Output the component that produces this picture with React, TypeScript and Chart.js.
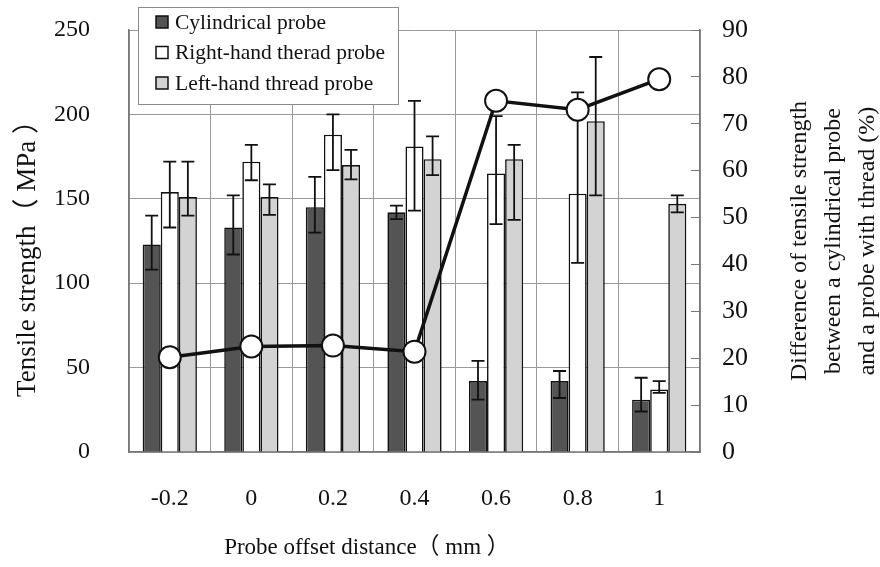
import React, { useEffect, useRef } from "react";
import { Chart, registerables } from "chart.js";

Chart.register(...registerables);

const categories = ["-0.2", "0", "0.2", "0.4", "0.6", "0.8", "1"];

const cylindrical = [123, 133, 145, 142, 42, 42, 31];
const cylErrPlus = [17, 19, 18, 4, 12, 6, 13];
const cylErrMinus = [15, 16, 15, 4, 11, 10, 7];

const rightHand = [154, 172, 188, 181, 165, 153, 37];
const rightErrPlus = [18, 10, 12, 27, 34, 60, 5];
const rightErrMinus = [21, 11, 21, 38, 30, 41, 2];

const leftHand = [151, 151, 170, 173.5, 173.5, 196, 147];
const leftErrPlus = [21, 7.5, 9, 13.5, 8.5, 38, 5];
const leftErrMinus = [11, 10.5, 8.5, 9.5, 36, 44, 5];

const difference = [20.2, 22.5, 22.7, 21.4, 74.9, 73, 79.5];

const legendLabels = ["Cylindrical probe", "Right-hand therad probe", "Left-hand thread probe"];
const leftTitle = "Tensile strength（ MPa ）";
const rightTitle = [
  "Difference of tensile strength",
  "between a cylindrical probe",
  "and a probe with thread (%)",
];
const xTitle = "Probe offset distance（ mm ）";

const FONT = "'Liberation Serif', 'Times New Roman', 'Noto Sans CJK SC', serif";
const DARK = "#545454";
const WHITE = "#ffffff";
const LIGHT = "#d3d3d3";

const errorBarPlugin = {
  id: "errorBars",
  afterDatasetDraw(chart: any, args: any) {
    const meta = args.meta;
    if (meta.type !== "bar") return;
    const ds: any = chart.data.datasets[args.index];
    const yScale = chart.scales[meta.yAxisID];
    const ctx = chart.ctx;
    ctx.save();
    ctx.strokeStyle = "#111";
    ctx.lineWidth = 1.8;
    meta.data.forEach((el: any, i: number) => {
      const v = ds.data[i];
      const yTop = yScale.getPixelForValue(v + ds.errPlus[i]);
      const yBot = yScale.getPixelForValue(v - ds.errMinus[i]);
      const x = el.x;
      const cap = 6.5;
      ctx.beginPath();
      ctx.moveTo(x, yTop);
      ctx.lineTo(x, yBot);
      ctx.moveTo(x - cap, yTop);
      ctx.lineTo(x + cap, yTop);
      ctx.moveTo(x - cap, yBot);
      ctx.lineTo(x + cap, yBot);
      ctx.stroke();
    });
    ctx.restore();
  },
};

const decorPlugin = {
  id: "decor",
  afterDraw(chart: any) {
    const ctx = chart.ctx;
    ctx.save();
    // Legend box
    ctx.fillStyle = "#fff";
    ctx.fillRect(138, 7, 260, 97);
    ctx.strokeStyle = "#8a8a8a";
    ctx.lineWidth = 1;
    ctx.strokeRect(138.5, 7.5, 260, 97);
    const fills = [DARK, WHITE, LIGHT];
    const rows = [22, 52.5, 83];
    ctx.font = `21.5px ${FONT}`;
    ctx.textBaseline = "middle";
    ctx.textAlign = "left";
    legendLabels.forEach((lab, i) => {
      ctx.fillStyle = fills[i];
      ctx.fillRect(156, rows[i] - 6, 12, 12);
      ctx.strokeStyle = "#111";
      ctx.lineWidth = 1.5;
      ctx.strokeRect(156, rows[i] - 6, 12, 12);
      ctx.fillStyle = "#111";
      ctx.fillText(lab, 175, rows[i] + 1);
    });

    // Left title
    ctx.fillStyle = "#111";
    ctx.font = `27px ${FONT}`;
    ctx.textAlign = "center";
    ctx.save();
    ctx.translate(28, 252);
    ctx.rotate(-Math.PI / 2);
    ctx.fillText(leftTitle, 0, 0);
    ctx.restore();

    // Right title
    ctx.font = `24px ${FONT}`;
    const xs = [800, 834, 868];
    rightTitle.forEach((t, i) => {
      ctx.save();
      ctx.translate(xs[i], 241);
      ctx.rotate(-Math.PI / 2);
      ctx.fillText(t, 0, 0);
      ctx.restore();
    });

    // X title
    ctx.font = `23px ${FONT}`;
    ctx.fillText(xTitle, 367, 548);
    ctx.restore();
  },
};

export default function App() {
  const ref = useRef<HTMLCanvasElement | null>(null);
  useEffect(() => {
    document.body.style.margin = "0";
    if (!ref.current) return;
    const tickFont = { family: FONT, size: 24 };
    const chart = new Chart(ref.current, {
      type: "bar",
      data: {
        labels: categories,
        datasets: [
          {
            type: "line",
            label: "Difference",
            data: difference,
            yAxisID: "y1",
            borderColor: "#111",
            borderWidth: 3.5,
            pointRadius: 11,
            pointBackgroundColor: "#fff",
            pointBorderColor: "#111",
            pointBorderWidth: 2,
            order: 0,
          } as any,
          {
            label: legendLabels[0],
            data: cylindrical,
            errPlus: cylErrPlus,
            errMinus: cylErrMinus,
            backgroundColor: DARK,
            borderColor: "#111",
            borderWidth: 1.6,
            yAxisID: "y",
            order: 1,
          } as any,
          {
            label: legendLabels[1],
            data: rightHand,
            errPlus: rightErrPlus,
            errMinus: rightErrMinus,
            backgroundColor: WHITE,
            borderColor: "#111",
            borderWidth: 1.6,
            yAxisID: "y",
            order: 1,
          } as any,
          {
            label: legendLabels[2],
            data: leftHand,
            errPlus: leftErrPlus,
            errMinus: leftErrMinus,
            backgroundColor: LIGHT,
            borderColor: "#111",
            borderWidth: 1.6,
            yAxisID: "y",
            order: 1,
          } as any,
        ],
      },
      options: {
        responsive: false,
        animation: false,
        devicePixelRatio: 1,
        datasets: { bar: { barPercentage: 1, categoryPercentage: 0.665 } },
        layout: { padding: { top: 30, left: 0, right: 0, bottom: 0 } },
        plugins: { legend: { display: false }, tooltip: { enabled: false } },
        scales: {
          x: {
            grid: { offset: true, color: "#999", lineWidth: 1, drawTicks: false },
            border: { display: true, color: "#777", width: 1.5 },
            ticks: { font: tickFont, color: "#111", padding: 32 },
            afterFit: (s: any) => {
              s.height = 115;
            },
          },
          y: {
            position: "left",
            min: 0,
            max: 250,
            grid: { color: "#999", lineWidth: 1, drawTicks: false },
            border: { display: true, color: "#777", width: 1.5 },
            ticks: { stepSize: 50, font: tickFont, color: "#111", padding: 39 },
            afterFit: (s: any) => {
              s.width = 129;
              s.paddingTop = 0;
              s.paddingBottom = 0;
            },
          },
          y1: {
            position: "right",
            min: 0,
            max: 90,
            grid: { drawOnChartArea: false, drawTicks: true, tickLength: -9, color: "#777" },
            border: { display: true, color: "#777", width: 1.5 },
            ticks: { stepSize: 10, font: { family: FONT, size: 26 }, color: "#111", padding: 31 },
            afterFit: (s: any) => {
              s.width = 180;
              s.paddingTop = 0;
              s.paddingBottom = 0;
            },
          },
        },
      } as any,
      plugins: [errorBarPlugin, decorPlugin],
    });
    return () => chart.destroy();
  }, []);
  return (
    <div style={{ width: 880, height: 567, background: "#fff" }}>
      <canvas ref={ref} width={880} height={567} />
    </div>
  );
}
